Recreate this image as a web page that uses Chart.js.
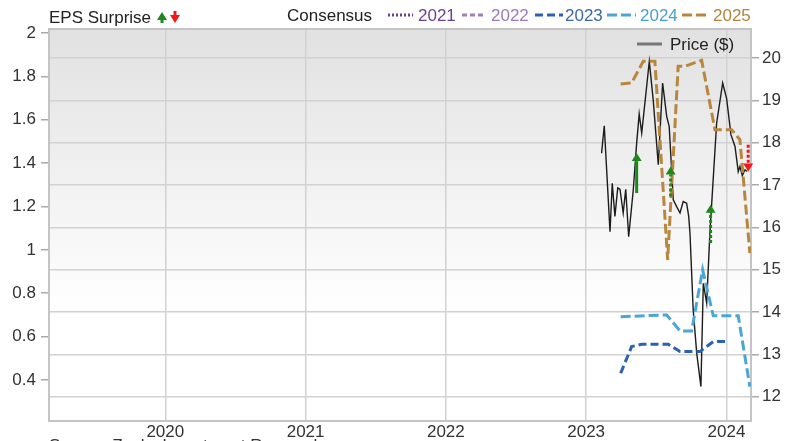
<!DOCTYPE html>
<html>
<head>
<meta charset="utf-8">
<script src="https://cdn.jsdelivr.net/npm/chart.js@4.4.1/dist/chart.umd.min.js"></script>
<style>
  html, body { margin: 0; padding: 0; background: #fff; overflow: hidden; }
  #wrap { width: 788px; height: 441px; position: relative; }
</style>
</head>
<body>
<div id="wrap"><canvas id="epsChart"></canvas></div>
<script>
// axis ticks
const yearTicks = [2020, 2021, 2022, 2023, 2024];
const epsTicks = [0.4, 0.6, 0.8, 1, 1.2, 1.4, 1.6, 1.8, 2];
const priceTicks = [12, 13, 14, 15, 16, 17, 18, 19, 20];

// price ($), right axis
const priceX = [2023.110, 2023.129, 2023.170, 2023.186, 2023.205, 2023.225, 2023.241, 2023.264, 2023.282, 2023.303,
  2023.336, 2023.360, 2023.378, 2023.396, 2023.450, 2023.478, 2023.514, 2023.545, 2023.574, 2023.592,
  2023.621, 2023.645, 2023.669, 2023.692, 2023.716, 2023.731, 2023.740, 2023.763, 2023.788, 2023.818,
  2023.835, 2023.859, 2023.882, 2023.930, 2023.973, 2024.001, 2024.032, 2024.061, 2024.084, 2024.096,
  2024.113, 2024.132, 2024.148];
const priceY = [17.75, 18.40, 15.90, 17.04, 16.26, 16.93, 16.90, 16.34, 16.90, 15.78,
  16.89, 17.99, 18.68, 18.23, 19.92, 19.01, 17.48, 19.41, 18.62, 18.38,
  16.65, 16.49, 16.34, 16.61, 16.57, 16.26, 15.86, 14.05, 13.03, 12.24,
  14.68, 14.21, 15.87, 18.46, 19.41, 19.05, 18.19, 17.91, 17.32, 17.44,
  17.22, 17.36, 17.32];

// consensus EPS by fiscal year, left axis
const consensusYears = ['2021', '2022', '2023', '2024', '2025'];
const cons2023X = [2023.246, 2023.324, 2023.396, 2023.585, 2023.669, 2023.811, 2023.906, 2024.001];
const cons2023Y = [0.431, 0.554, 0.565, 0.565, 0.531, 0.531, 0.577, 0.577];
const cons2024X = [2023.246, 2023.574, 2023.669, 2023.752, 2023.830, 2023.906, 2024.084, 2024.167];
const cons2024Y = [0.692, 0.700, 0.626, 0.626, 0.908, 0.696, 0.696, 0.369];
const cons2025X = [2023.246, 2023.324, 2023.407, 2023.490, 2023.581, 2023.656, 2023.704, 2023.823, 2023.918, 2024.037, 2024.096, 2024.167];
const cons2025Y = [1.765, 1.769, 1.869, 1.869, 0.954, 1.846, 1.846, 1.874, 1.554, 1.554, 1.508, 0.985];

// EPS surprise arrows (from -> to), left axis
const surpriseX = [2023.360, 2023.602, 2023.887, 2024.155];
const surpriseFrom = [1.262, 1.246, 1.031, 1.485];
const surpriseTo = [1.446, 1.384, 1.208, 1.361];

const FONT = '"Liberation Sans", Arial, sans-serif';
const GREEN = '#1b8a1b';
const RED = '#f01818';

const yearStyle = {
  '2021': { color: '#6b3f91', text: '#6b3f91', dash: [2, 2] },
  '2022': { color: '#a07fbd', text: '#9d7ab8', dash: [5, 3] },
  '2023': { color: '#2c62b2', text: '#3d68a8', dash: [8, 4] },
  '2024': { color: '#4ba6d8', text: '#4a9fcf', dash: [10, 4] },
  '2025': { color: '#b8873c', text: '#b0843e', dash: [10, 4] }
};

function pts(xs, ys) {
  return xs.map((x, i) => ({ x, y: ys[i] }));
}

function consensusSet(year, xs, ys) {
  const s = yearStyle[year];
  return {
    label: year, data: pts(xs, ys), yAxisID: 'yL',
    borderColor: s.color, borderWidth: 3, borderDash: s.dash,
    pointRadius: 0, tension: 0, fill: false
  };
}

function drawArrow(ctx, x, y0, y1, color, dotted) {
  const up = y1 < y0;
  const head = 8;
  ctx.save();
  ctx.strokeStyle = color;
  ctx.fillStyle = color;
  ctx.lineWidth = 3;
  ctx.setLineDash(dotted ? [3, 2] : []);
  ctx.beginPath();
  ctx.moveTo(x, y0);
  ctx.lineTo(x, up ? y1 + head : y1 - head);
  ctx.stroke();
  ctx.setLineDash([]);
  ctx.beginPath();
  ctx.moveTo(x, y1);
  ctx.lineTo(x - 5, up ? y1 + head : y1 - head);
  ctx.lineTo(x + 5, up ? y1 + head : y1 - head);
  ctx.closePath();
  ctx.fill();
  ctx.restore();
}

const decor = {
  id: 'decor',
  beforeDraw(chart) {
    const { ctx, chartArea: a } = chart;
    const g = ctx.createLinearGradient(0, a.top, 0, a.bottom);
    g.addColorStop(0, '#e1e1e1');
    g.addColorStop(0.72, '#ffffff');
    ctx.save();
    ctx.fillStyle = g;
    ctx.fillRect(a.left, a.top, a.right - a.left, a.bottom - a.top);
    ctx.restore();
  },
  beforeDatasetsDraw(chart) {
    const { ctx, chartArea: a } = chart;
    ctx.save();
    ctx.strokeStyle = '#c4c4c4';
    ctx.lineWidth = 2;
    ctx.strokeRect(a.left, a.top, a.right - a.left, a.bottom - a.top);
    ctx.restore();
  },
  afterDatasetsDraw(chart) {
    const { ctx } = chart;
    const xs = chart.scales.x, ys = chart.scales.yL;
    surpriseX.forEach((v, i) => {
      const up = surpriseTo[i] > surpriseFrom[i];
      drawArrow(ctx, xs.getPixelForValue(v), ys.getPixelForValue(surpriseFrom[i]),
        ys.getPixelForValue(surpriseTo[i]), up ? GREEN : RED, i > 0);
    });
  },
  afterDraw(chart) {
    const { ctx } = chart;
    ctx.save();
    ctx.font = '17px ' + FONT;
    ctx.textBaseline = 'alphabetic';
    ctx.fillStyle = '#222';
    ctx.fillText('EPS Surprise', 49, 23);
    drawArrow(ctx, 162, 23, 12, GREEN, false);
    drawArrow(ctx, 175, 11, 23, RED, false);
    ctx.fillText('Consensus', 287, 21);

    const sampleX = [388, 462, 535, 607, 682];
    const sampleW = [25, 23, 28, 29, 28];
    const textX = [418, 491, 565, 640, 713];
    consensusYears.forEach((yr, i) => {
      const s = yearStyle[yr];
      ctx.strokeStyle = s.color;
      ctx.lineWidth = 3;
      ctx.setLineDash(s.dash);
      ctx.beginPath();
      ctx.moveTo(sampleX[i], 15);
      ctx.lineTo(sampleX[i] + sampleW[i], 15);
      ctx.stroke();
      ctx.setLineDash([]);
      ctx.fillStyle = s.text;
      ctx.fillText(yr, textX[i], 21);
    });

    ctx.strokeStyle = '#777';
    ctx.lineWidth = 3;
    ctx.beginPath();
    ctx.moveTo(637, 44);
    ctx.lineTo(662, 44);
    ctx.stroke();
    ctx.fillStyle = '#222';
    ctx.fillText('Price ($)', 670, 50);

    ctx.fillStyle = '#333';
    ctx.fillText('Source: Zacks Investment Research', 49, 451);
    ctx.restore();
  }
};

const tickFont = { family: FONT, size: 17 };

new Chart(document.getElementById('epsChart'), {
  type: 'line',
  data: {
    datasets: [
      consensusSet('2023', cons2023X, cons2023Y),
      consensusSet('2024', cons2024X, cons2024Y),
      consensusSet('2025', cons2025X, cons2025Y),
      {
        label: 'Price ($)', data: pts(priceX, priceY), yAxisID: 'yR',
        borderColor: '#1c1c1c', borderWidth: 1.4, pointRadius: 0, tension: 0, fill: false
      }
    ]
  },
  options: {
    responsive: true,
    maintainAspectRatio: false,
    animation: false,
    layout: { padding: { top: 29, left: 0, right: 0, bottom: 0 } },
    plugins: { legend: { display: false }, tooltip: { enabled: false } },
    scales: {
      x: {
        type: 'linear', min: 2019.171, max: 2024.175,
        afterBuildTicks: s => { s.ticks = yearTicks.map(v => ({ value: v })); },
        afterFit: s => { s.height = 20; },
        grid: { color: '#d2d2d2', lineWidth: 1.5, drawTicks: false },
        border: { display: false },
        ticks: { font: tickFont, color: '#333', padding: 1, maxRotation: 0, callback: v => String(v) }
      },
      yL: {
        type: 'linear', position: 'left', min: 0.211, max: 2.018,
        afterBuildTicks: s => { s.ticks = epsTicks.map(v => ({ value: v })); },
        afterFit: s => { s.width = 49; },
        grid: { drawOnChartArea: false, drawTicks: true, tickLength: 8, tickColor: '#aaa', lineWidth: 1.5 },
        border: { display: false },
        ticks: { font: tickFont, color: '#333', padding: 5, callback: v => String(v) }
      },
      yR: {
        type: 'linear', position: 'right', min: 11.426, max: 20.686,
        afterBuildTicks: s => { s.ticks = priceTicks.map(v => ({ value: v })); },
        afterFit: s => { s.width = 37; },
        grid: { color: '#d2d2d2', lineWidth: 1.5, drawTicks: true, tickLength: 8, tickColor: '#aaa' },
        border: { display: false },
        ticks: { font: tickFont, color: '#333', padding: 3, callback: v => String(v) }
      }
    }
  },
  plugins: [decor]
});
</script>
</body>
</html>
